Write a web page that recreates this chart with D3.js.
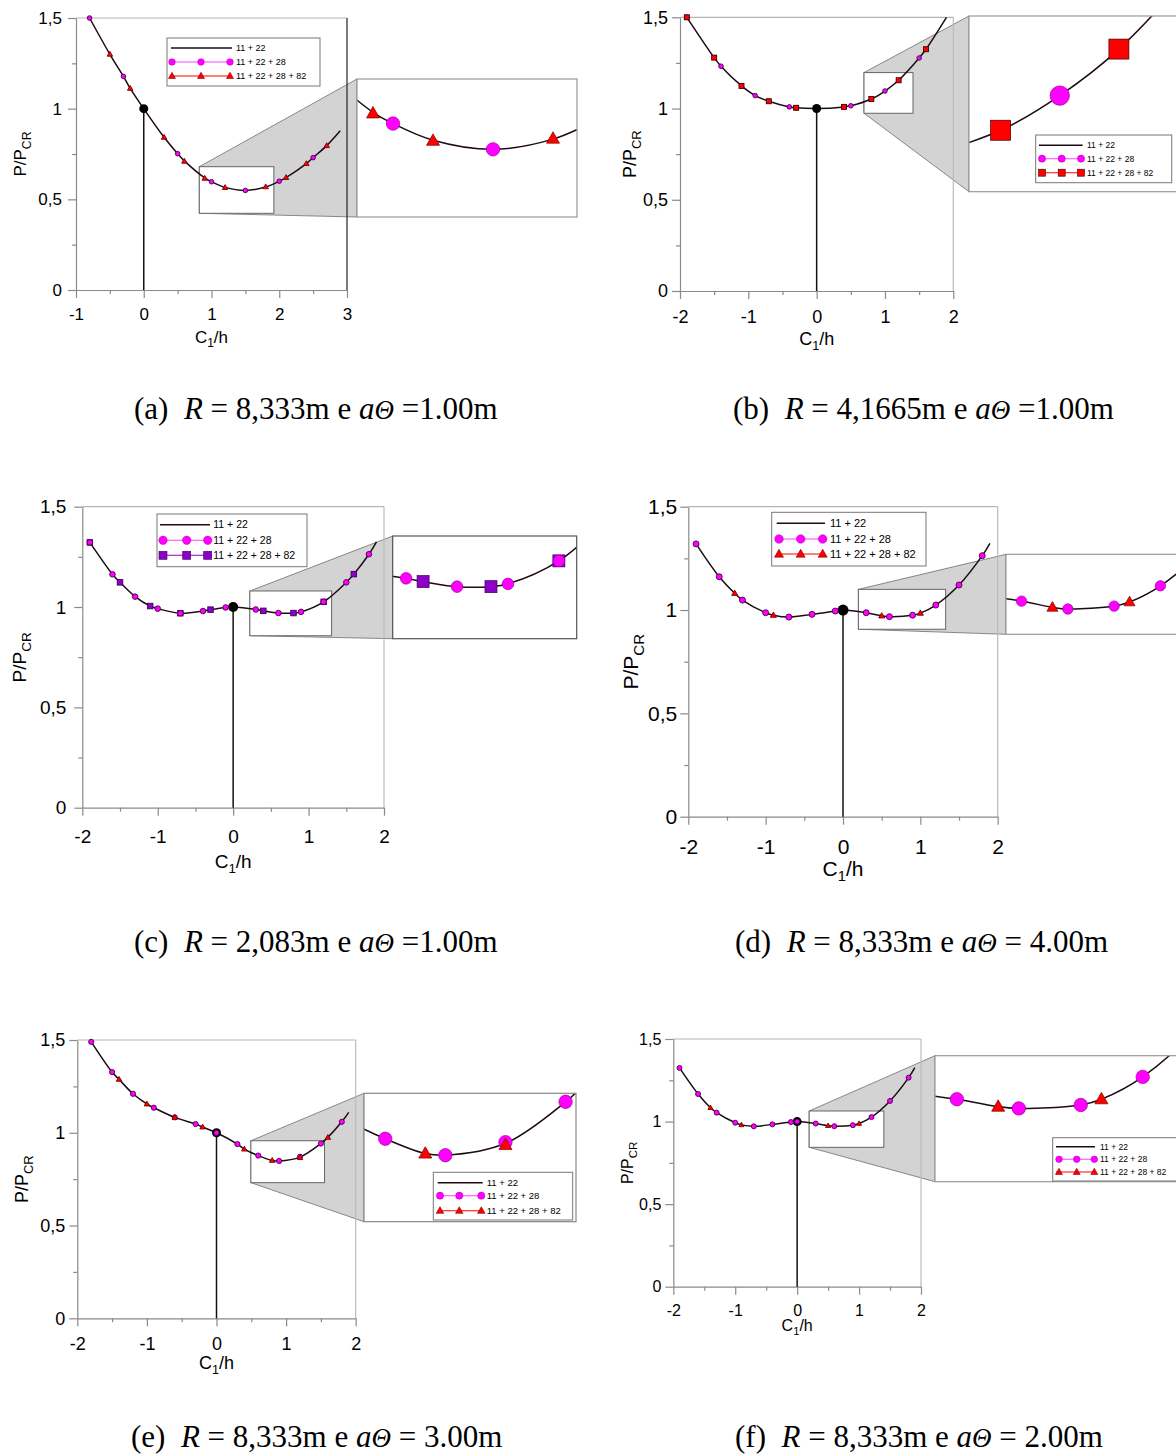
<!DOCTYPE html>
<html>
<head>
<meta charset="utf-8">
<script src="https://cdn.jsdelivr.net/npm/d3@7"></script>
<style>
  body { margin: 0; background: #fff; }
  svg { display: block; }
  text { font-family: "Liberation Sans", Arial, sans-serif; }
</style>
</head>
<body>
<script>
// ---- data: [C1/h, P/Pcr] ----
var seriesNames = ['11 + 22', '11 + 22 + 28', '11 + 22 + 28 + 82'];
var yTicks = [0, 0.5, 1, 1.5];
var yMinor = [0.25, 0.75, 1.25];
var xTicksA = [-1, 0, 1, 2, 3];
var xMinorA = [-0.5, 0.5, 1.5, 2.5];
var xTicks = [-2, -1, 0, 1, 2];
var xMinor = [-1.5, -0.5, 0.5, 1.5];

// (a)
var curveA = [[-0.8,1.50],[-0.5,1.30],[-0.3,1.178],[-0.2,1.112],[0,1.0],[0.3,0.842],[0.5,0.752],[0.6,0.712],[0.9,0.618],[1.0,0.597],[1.2,0.566],[1.5,0.549],[1.8,0.568],[2.0,0.600],[2.1,0.620],[2.4,0.697],[2.5,0.730],[2.7,0.796],[2.9,0.878]];
var circA = [[-0.8,1.50],[-0.3,1.178],[0.5,0.752],[1.0,0.597],[1.5,0.549],[2.0,0.600],[2.5,0.730]];
var markA = [[-0.5,1.30],[-0.2,1.112],[0.3,0.842],[0.6,0.710],[0.9,0.616],[1.2,0.565],[1.8,0.569],[2.1,0.620],[2.4,0.697],[2.7,0.796]];
// (b)
var curveB = [[-1.9,1.5],[-1.5,1.279],[-1.4,1.232],[-1.1,1.124],[-0.9,1.071],[-0.7,1.040],[-0.4,1.009],[-0.3,1.004],[0,1.0],[0.4,1.009],[0.5,1.015],[0.8,1.052],[1.0,1.096],[1.2,1.155],[1.5,1.277],[1.6,1.325],[1.9,1.5]];
var circB = [[-1.9,1.50],[-1.4,1.232],[-0.9,1.071],[-0.4,1.009],[0.5,1.015],[1.0,1.096],[1.5,1.277]];
var markB = [[-1.9,1.50],[-1.5,1.279],[-1.1,1.124],[-0.7,1.040],[-0.3,1.004],[0.4,1.009],[0.8,1.052],[1.2,1.155],[1.6,1.325]];
// (c)
var curveC = [[-1.9,1.322],[-1.6,1.163],[-1.5,1.123],[-1.3,1.052],[-1.1,1.005],[-1.0,0.992],[-0.7,0.969],[-0.4,0.980],[-0.3,0.987],[-0.1,0.998],[0,1.0],[0.3,0.988],[0.4,0.981],[0.6,0.970],[0.8,0.970],[0.9,0.976],[1.2,1.026],[1.5,1.123],[1.6,1.164],[1.8,1.263],[1.9,1.325]];
var circC = [[-1.9,1.322],[-1.6,1.163],[-1.3,1.052],[-1.0,0.992],[-0.7,0.969],[-0.4,0.980],[-0.1,0.998],[0.3,0.988],[0.6,0.970],[0.9,0.976],[1.2,1.026],[1.5,1.123],[1.8,1.263]];
var markC = [[-1.9,1.322],[-1.5,1.123],[-1.1,1.005],[-0.7,0.969],[-0.3,0.987],[0.4,0.981],[0.8,0.970],[1.2,1.026],[1.6,1.164]];
// (d)
var curveD = [[-1.9,1.320],[-1.6,1.161],[-1.4,1.081],[-1.3,1.048],[-1.0,0.987],[-0.9,0.975],[-0.7,0.966],[-0.4,0.979],[-0.1,0.995],[0,1.0],[0.3,0.987],[0.5,0.972],[0.6,0.968],[0.9,0.975],[1.0,0.985],[1.2,1.024],[1.5,1.121],[1.8,1.263],[1.9,1.323]];
var circD = [[-1.9,1.320],[-1.6,1.161],[-1.3,1.048],[-1.0,0.987],[-0.7,0.966],[-0.4,0.979],[-0.1,0.995],[0.3,0.987],[0.6,0.968],[0.9,0.975],[1.2,1.024],[1.5,1.121],[1.8,1.263]];
var markD = [[-1.4,1.081],[-0.9,0.975],[0.5,0.972],[1.0,0.985]];
// (e)
var curveE = [[-1.8,1.490],[-1.5,1.327],[-1.4,1.288],[-1.2,1.210],[-1.0,1.155],[-0.9,1.135],[-0.6,1.083],[-0.3,1.047],[-0.2,1.031],[0,1.0],[0.3,0.939],[0.4,0.912],[0.6,0.877],[0.8,0.851],[0.9,0.848],[1.2,0.869],[1.5,0.942],[1.6,0.975],[1.8,1.059],[1.9,1.110]];
var circE = [[-1.8,1.490],[-1.5,1.327],[-1.2,1.210],[-0.9,1.135],[-0.6,1.083],[-0.3,1.047],[0,1.0],[0.3,0.939],[0.6,0.877],[0.9,0.848],[1.2,0.871],[1.5,0.942],[1.8,1.059]];
var markE = [[-1.4,1.288],[-1.0,1.155],[-0.6,1.083],[-0.2,1.031],[0.4,0.912],[0.8,0.851],[1.2,0.866],[1.6,0.975]];
// (f)
var curveF = [[-1.9,1.325],[-1.6,1.167],[-1.4,1.084],[-1.3,1.054],[-1.0,0.993],[-0.9,0.980],[-0.7,0.971],[-0.4,0.983],[-0.1,0.997],[0,1.0],[0.3,0.988],[0.5,0.975],[0.6,0.972],[0.9,0.978],[1.0,0.988],[1.2,1.027],[1.5,1.125],[1.8,1.266],[1.9,1.327]];
var circF = [[-1.9,1.325],[-1.6,1.167],[-1.3,1.054],[-1.0,0.993],[-0.7,0.971],[-0.4,0.983],[-0.1,0.997],[0,1.0],[0.3,0.988],[0.6,0.972],[0.9,0.978],[1.2,1.027],[1.5,1.125],[1.8,1.266]];
var markF = [[-1.4,1.084],[-0.9,0.980],[0.5,0.975],[1.0,0.988]];

// captions: label, R value, a_theta value
var capA = ['(a)', '8,333m', ' =1.00m'];
var capB = ['(b)', '4,1665m', ' =1.00m'];
var capC = ['(c)', '2,083m', ' =1.00m'];
var capD = ['(d)', '8,333m', ' = 4.00m'];
var capE = ['(e)', '8,333m', ' = 3.00m'];
var capF = ['(f)', '8,333m', ' = 2.00m'];

// ---- layout (pixels) ----
var panels = [
  { curve: curveA, circ: circA, mark: markA, cap: capA, shape: 'tri', col: '#ff0000', edge: '#7a0000',
    box: [76, 347, 18, 290], xd: [-1, 3], xt: xTicksA, xm: xMinorA, fs: 17, xPad: 10, yPad: 6,
    xtY: 343, ytX: 26, rightCol: '#222',
    win: [0.82, 1.92, 0.423, 0.68], inset: [357, 577, 79, 217], insCol: '#999',
    sz: { c: 2.3, s: 5.5, ic: 6.7, is: 13, lc: 3.3, ls: 7, dot: 4.5 },
    leg: { x: 167, y: 38, w: 153, h: 48, rows: [10, 24, 38], l0: 4, l1: 65, m: [5, 34, 63], tx: 69, fs: 9 },
    capX: 134, capY: 419 },
  { curve: curveB, circ: circB, mark: markB, cap: capB, shape: 'square', col: '#ff0000', edge: '#3a0000',
    box: [680, 953.3, 17.3, 291], xd: [-2, 2], xt: xTicks, xm: xMinor, fs: 18, xPad: 11, yPad: 4,
    xtY: 345, ytX: 636, rightCol: '#bbb',
    win: [0.693, 1.41, 0.974, 1.197], inset: [969, 1181, 16, 191.7], insCol: '#999',
    sz: { c: 2.3, s: 5, ic: 9.7, is: 20, lc: 3.6, ls: 7, dot: 4.5 },
    leg: { x: 1035.7, y: 135, w: 136, h: 47.7, rows: [10.3, 23.7, 37.7], l0: 3.3, l1: 47, m: [6.3, 26, 45.3], tx: 51.3, fs: 8.5 },
    capX: 733, capY: 419 },
  { curve: curveC, circ: circC, mark: markC, cap: capC, shape: 'square', col: '#8c00c8', edge: '#3a005a', markFirst: true,
    box: [82.3, 384, 506.7, 807.7], xd: [-2, 2], xt: xTicks, xm: xMinor, fs: 19, xPad: 14, yPad: 8,
    xtY: 868, ytX: 26, rightCol: '#bbb',
    win: [0.221, 1.305, 0.857, 1.08], inset: [392.7, 576.7, 536, 638.7], insCol: '#555',
    sz: { c: 2.8, s: 5.5, ic: 5.8, is: 12, lc: 4.2, ls: 8, dot: 5 },
    leg: { x: 157, y: 514, w: 150, h: 52.7, rows: [10.7, 26.3, 41.3], l0: 3, l1: 53, m: [6, 29.7, 50.7], tx: 56.3, fs: 10.5 },
    capX: 134, capY: 952 },
  { curve: curveD, circ: circD, mark: markD, cap: capD, shape: 'tri', col: '#ff0000', edge: '#7a0000',
    box: [688.3, 997.7, 506.7, 816.7], xd: [-2, 2], xt: xTicks, xm: xMinor, fs: 21, xPad: 14, yPad: 3,
    xtY: 876, ytX: 638, rightCol: '#bbb',
    win: [0.199, 1.327, 0.907, 1.10], inset: [1006, 1180, 554.3, 634.3], insCol: '#999',
    sz: { c: 3, s: 6, ic: 5.2, is: 11, lc: 4.3, ls: 9, dot: 5.5 },
    leg: { x: 771.7, y: 512.3, w: 154.3, h: 53.7, rows: [11, 26.7, 41.7], l0: 5, l1: 53.3, m: [7.3, 29, 51], tx: 58.3, fs: 11 },
    capX: 735, capY: 952 },
  { curve: curveE, circ: circE, mark: markE, cap: capE, shape: 'tri', col: '#ff0000', edge: '#7a0000',
    box: [77.3, 355.7, 1040, 1318.3], xd: [-2, 2], xt: xTicks, xm: xMinor, fs: 18, xPad: 11, yPad: 4,
    xtY: 1369, ytX: 28, rightCol: '#bbb',
    win: [0.494, 1.552, 0.731, 0.957], inset: [364, 576, 1093.3, 1221.7], insCol: '#888',
    sz: { c: 2.6, s: 5.5, ic: 6.7, is: 13, lc: 3.6, ls: 7.5, dot: 4.5 },
    leg: { x: 433.3, y: 1172.3, w: 139.4, h: 47.7, rows: [10.4, 23.4, 38.4], l0: 4.4, l1: 49.4, m: [6.7, 26, 48], tx: 53.4, fs: 9.5 },
    capX: 131, capY: 1447 },
  { curve: curveF, circ: circF, mark: markF, cap: capF, shape: 'tri', col: '#ff0000', edge: '#7a0000',
    box: [673.3, 921, 1039, 1286.7], xd: [-2, 2], xt: xTicks, xm: xMinor, fs: 16, xPad: 10, yPad: 4,
    xtY: 1331, ytX: 633, rightCol: '#bbb',
    win: [0.194, 1.40, 0.844, 1.064], inset: [935, 1184, 1055.7, 1181.7], insCol: '#999',
    sz: { c: 2.5, s: 5, ic: 6.7, is: 13, lc: 3.3, ls: 7, dot: 4.5 },
    leg: { x: 1052.7, y: 1137.7, w: 130, h: 43.3, rows: [9, 21.6, 34.3], l0: 3.3, l1: 42.3, m: [6.3, 24, 41.6], tx: 47.3, fs: 8.5 },
    capX: 735, capY: 1447 }
];

var W = 1176, H = 1455;
var axisCol = '#8a8a8a';
var curveCol = '#1e0a16';

var svg = d3.select('body').append('svg')
    .attr('width', W)
    .attr('height', H);

var fmt = function(d) { return String(d).replace('.', ','); };
var line = function(xs, ys) {
  return d3.line().x(function(d) { return xs(d[0]); }).y(function(d) { return ys(d[1]); })
    .curve(d3.curveCatmullRom.alpha(0.5));
};

function marker(g, shape, cx, cy, s, fill, stroke, sw) {
  if (shape === 'circle') {
    g.append('circle').attr('cx', cx).attr('cy', cy).attr('r', s)
      .attr('fill', fill).attr('stroke', stroke).attr('stroke-width', sw);
  } else if (shape === 'square') {
    g.append('rect').attr('x', cx - s / 2).attr('y', cy - s / 2).attr('width', s).attr('height', s)
      .attr('fill', fill).attr('stroke', stroke).attr('stroke-width', sw);
  } else {
    var h = s * 0.88;
    g.append('path')
      .attr('d', 'M' + cx + ',' + (cy - h * 0.6) + 'L' + (cx + s / 2) + ',' + (cy + h * 0.4) + 'L' + (cx - s / 2) + ',' + (cy + h * 0.4) + 'Z')
      .attr('fill', fill).attr('stroke', stroke).attr('stroke-width', sw);
  }
}

function drawMarkers(g, p, xs, ys, cr, ms, sw, cEdge) {
  var circles = function() {
    p.circ.forEach(function(d) { marker(g, 'circle', xs(d[0]), ys(d[1]), cr, '#ff00ff', cEdge, sw); });
  };
  var marks = function() {
    p.mark.forEach(function(d) { marker(g, p.shape, xs(d[0]), ys(d[1]), ms, p.col, p.edge, sw); });
  };
  if (p.markFirst) { marks(); circles(); } else { circles(); marks(); }
}

panels.forEach(function(p, i) {
  var g = svg.append('g');
  var b = p.box;
  var x = d3.scaleLinear().domain(p.xd).range([b[0], b[1]]);
  var y = d3.scaleLinear().domain([0, 1.5]).range([b[3], b[2]]);
  var w = p.win, ins = p.inset;
  var xi = d3.scaleLinear().domain([w[0], w[1]]).range([ins[0], ins[1]]);
  var yi = d3.scaleLinear().domain([w[2], w[3]]).range([ins[3], ins[2]]);

  // zoom projection
  g.append('polygon')
    .attr('points', [[x(w[0]), y(w[3])], [ins[0], ins[2]], [ins[0], ins[3]], [x(w[0]), y(w[2])]].join(' '))
    .attr('fill', '#d3d3d3')
    .attr('stroke', '#6e6e6e')
    .attr('stroke-width', 0.8);
  g.append('rect')
    .attr('x', x(w[0])).attr('y', y(w[3]))
    .attr('width', x(w[1]) - x(w[0])).attr('height', y(w[2]) - y(w[3]))
    .attr('fill', '#fff').attr('stroke', '#666').attr('stroke-width', 1);

  // frame
  g.append('line').attr('x1', b[0]).attr('x2', b[1]).attr('y1', b[2]).attr('y2', b[2])
    .attr('stroke', '#b5b5b5').attr('stroke-width', 1.2);
  g.append('line').attr('x1', b[1]).attr('x2', b[1]).attr('y1', b[2]).attr('y2', b[3])
    .attr('stroke', p.rightCol).attr('stroke-width', 1.2);

  // axes
  var gx = g.append('g').attr('transform', 'translate(0,' + b[3] + ')')
    .call(d3.axisBottom(x).tickValues(p.xt).tickSize(8).tickSizeOuter(0).tickPadding(p.xPad).tickFormat(fmt));
  g.append('g').attr('transform', 'translate(0,' + b[3] + ')')
    .call(d3.axisBottom(x).tickValues(p.xm).tickSize(4).tickFormat(''))
    .call(function(s) { s.select('.domain').remove(); });
  var gy = g.append('g').attr('transform', 'translate(' + b[0] + ',0)')
    .call(d3.axisLeft(y).tickValues(yTicks).tickSize(8).tickSizeOuter(0).tickPadding(p.yPad).tickFormat(fmt));
  g.append('g').attr('transform', 'translate(' + b[0] + ',0)')
    .call(d3.axisLeft(y).tickValues(yMinor).tickSize(4).tickFormat(''))
    .call(function(s) { s.select('.domain').remove(); });
  g.selectAll('.domain, .tick line').attr('stroke', axisCol).attr('stroke-width', 1.2);
  [gx, gy].forEach(function(a) {
    a.attr('font-family', null).attr('font-size', null);
    a.selectAll('text').attr('font-size', p.fs).attr('fill', '#000');
  });

  // vertical reference at C1/h = 0
  g.append('line').attr('x1', x(0)).attr('x2', x(0)).attr('y1', y(1)).attr('y2', y(0))
    .attr('stroke', '#111').attr('stroke-width', 1.5);

  // curve (the three series coincide; the 11 + 22 line lies on top)
  g.append('path').attr('d', line(x, y)(p.curve)).attr('fill', 'none').attr('stroke', curveCol).attr('stroke-width', 1.5);
  g.append('circle').attr('cx', x(0)).attr('cy', y(1)).attr('r', p.sz.dot).attr('fill', '#000');
  drawMarkers(g, p, x, y, p.sz.c, p.sz.s, 0.9, '#4a004a');

  // inset
  var clipId = 'clip' + i;
  svg.append('clipPath').attr('id', clipId).append('rect')
    .attr('x', ins[0]).attr('y', ins[2]).attr('width', ins[1] - ins[0]).attr('height', ins[3] - ins[2]);
  g.append('rect').attr('x', ins[0]).attr('y', ins[2]).attr('width', ins[1] - ins[0]).attr('height', ins[3] - ins[2])
    .attr('fill', '#fff');
  var gi = g.append('g').attr('clip-path', 'url(#' + clipId + ')');
  gi.append('path').attr('d', line(xi, yi)(p.curve)).attr('fill', 'none').attr('stroke', curveCol).attr('stroke-width', 1.5);
  drawMarkers(gi, p, xi, yi, p.sz.ic, p.sz.is, 0.7, '#a000a0');
  g.append('rect').attr('x', ins[0]).attr('y', ins[2]).attr('width', ins[1] - ins[0]).attr('height', ins[3] - ins[2])
    .attr('fill', 'none').attr('stroke', p.insCol).attr('stroke-width', 1.2);

  // legend
  var L = p.leg;
  var gl = g.append('g').attr('transform', 'translate(' + L.x + ',' + L.y + ')');
  gl.append('rect').attr('width', L.w).attr('height', L.h).attr('fill', '#fff')
    .attr('stroke', '#777').attr('stroke-width', 1);
  var rowCol = [curveCol, '#ff40ff', p.col];
  seriesNames.forEach(function(name, k) {
    var ry = L.rows[k];
    gl.append('line').attr('x1', L.l0).attr('x2', L.l1).attr('y1', ry).attr('y2', ry)
      .attr('stroke', rowCol[k]).attr('stroke-width', k === 0 ? 1.4 : 1.1);
    if (k > 0) {
      L.m.forEach(function(mx) {
        if (k === 1) marker(gl, 'circle', mx, ry, p.sz.lc, '#ff00ff', '#b000b0', 0.5);
        else marker(gl, p.shape, mx, ry, p.sz.ls, p.col, p.edge, 0.6);
      });
    }
    gl.append('text').attr('x', L.tx).attr('y', ry).attr('dy', '0.35em')
      .attr('font-size', L.fs).attr('fill', '#000').text(name);
  });

  // axis titles
  var xt = g.append('text').attr('x', (b[0] + b[1]) / 2).attr('y', p.xtY)
    .attr('text-anchor', 'middle').attr('font-size', p.fs);
  xt.append('tspan').text('C');
  xt.append('tspan').attr('font-size', p.fs * 0.7).attr('dy', p.fs * 0.25).text('1');
  xt.append('tspan').attr('dy', -p.fs * 0.25).text('/h');
  var yt = g.append('text')
    .attr('transform', 'translate(' + p.ytX + ',' + ((b[2] + b[3]) / 2) + ') rotate(-90)')
    .attr('text-anchor', 'middle').attr('font-size', p.fs);
  yt.append('tspan').text('P/P');
  yt.append('tspan').attr('font-size', p.fs * 0.72).attr('dy', p.fs * 0.28).text('CR');

  // caption
  var c = g.append('text').attr('x', p.capX).attr('y', p.capY)
    .style('font-family', '"Liberation Serif", "Times New Roman", serif')
    .style('white-space', 'pre')
    .attr('font-size', 31).attr('fill', '#000');
  c.append('tspan').text(p.cap[0] + '  ');
  c.append('tspan').attr('font-style', 'italic').text('R');
  c.append('tspan').text(' = ' + p.cap[1] + ' e ');
  c.append('tspan').attr('font-style', 'italic').text('a');
  c.append('tspan').attr('font-style', 'italic').attr('font-size', 27).text('\u0398');
  c.append('tspan').text(p.cap[2]);
});
</script>
</body>
</html>
